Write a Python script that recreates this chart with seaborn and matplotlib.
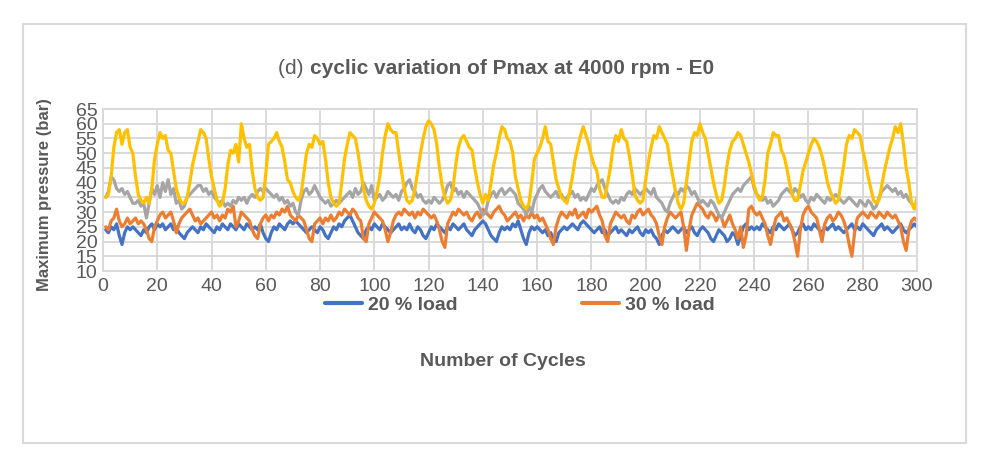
import numpy as np
import pandas as pd
import matplotlib
matplotlib.use("Agg")
import matplotlib.pyplot as plt
import seaborn as sns
from matplotlib.lines import Line2D
from matplotlib.patches import Rectangle

# Maximum pressure (bar) per cycle
load_20 = [
    24, 23, 25, 24, 26, 22, 19, 23, 25, 24,
    25, 24, 23, 22, 24, 23, 25, 26, 24, 26,
    25, 26, 24, 25, 26, 24, 25, 23, 22, 21,
    23, 24, 25, 24, 23, 25, 24, 26, 25, 24,
    23, 25, 24, 26, 25, 24, 26, 25, 24, 26,
    25, 24, 26, 25, 24, 25, 24, 26, 23, 21,
    20, 23, 25, 24, 26, 25, 24, 26, 27, 26,
    27, 26, 25, 24, 23, 24, 25, 24, 23, 25,
    24, 22, 21, 23, 25, 24, 26, 25, 27, 28,
    29, 27, 25, 23, 22, 21, 24, 25, 24, 26,
    25, 24, 26, 25, 24, 23, 24, 25, 26, 24,
    25, 24, 26, 24, 23, 25, 24, 22, 21, 23,
    25, 24, 26, 25, 24, 23, 25, 24, 26, 25,
    24, 25, 26, 24, 23, 22, 24, 25, 26, 27,
    26, 24, 22, 21, 20, 23, 25, 24, 25, 24,
    26, 25, 27, 24, 21, 19, 23, 25, 24, 25,
    24, 23, 24, 22, 23, 21, 20, 23, 24, 25,
    24, 25, 26, 25, 24, 26, 27, 26, 25, 24,
    23, 24, 25, 23, 24, 22, 23, 24, 25, 23,
    24, 23, 22, 24, 23, 24, 25, 23, 22, 24,
    23, 24, 22, 21, 19, 22, 24, 23, 24, 25,
    24, 23, 24, 25, 23, 24, 25, 23, 22, 24,
    25, 24, 23, 21, 20, 22, 24, 23, 22, 20,
    21, 23, 22, 19, 22, 25, 26, 24, 25, 24,
    25, 24, 26, 25, 24, 23, 25, 24, 26, 25,
    24, 25, 26, 24, 22, 23, 25, 26, 24, 25,
    24, 26, 25, 24, 23, 25, 24, 25, 26, 24,
    25, 24, 23, 24, 25, 26, 24, 25, 24, 26,
    25, 24, 23, 22, 24, 25, 26, 24, 25, 24,
    23, 24, 25, 26, 24, 23, 24, 25, 26, 25,
]
load_30 = [
    25, 24, 27, 28, 31, 27, 25, 26, 28, 26,
    27, 28, 26, 27, 26, 24, 21, 20, 25, 27,
    29, 30, 28, 29, 30, 27, 23, 26, 28, 29,
    30, 31, 29, 27, 28, 26, 27, 28, 29, 30,
    28, 29, 27, 29, 28, 31, 30, 32, 25, 27,
    30, 29, 28, 27, 24, 22, 21, 26, 28, 29,
    27, 29, 28, 30, 29, 31, 30, 32, 29, 28,
    27, 29, 28, 27, 24, 21, 20, 26, 27, 28,
    26, 28, 27, 29, 27, 28, 30, 29, 31, 30,
    29, 31, 30, 28, 27, 21, 20, 26, 28, 30,
    29, 28, 27, 24, 20, 23, 27, 29, 30, 29,
    31, 30, 29, 30, 28, 30, 29, 31, 30, 29,
    28, 29, 27, 24, 20, 18, 26, 28, 30, 29,
    31, 30, 29, 30, 28, 27, 29, 30, 28, 31,
    30, 29, 28, 30, 31, 32, 30, 29, 27, 28,
    29, 30, 28, 29, 27, 29, 28, 30, 28, 29,
    27, 28, 26, 24, 21, 19, 25, 28, 30, 29,
    28, 30, 29, 31, 28, 29, 30, 28, 31, 30,
    31, 32, 29, 27, 22, 20, 26, 28, 30, 29,
    28, 29, 27, 26, 29, 28, 30, 31, 29, 30,
    31, 29, 28, 26, 22, 19, 25, 28, 30, 29,
    28, 29, 30, 25, 17, 24, 29, 31, 33, 32,
    31, 29, 28, 30, 29, 27, 29, 28, 25, 27,
    29, 26, 24, 21, 25, 18, 22, 31, 32, 30,
    29, 30, 28, 26, 22, 19, 24, 28, 29, 30,
    27, 28, 26, 24, 20, 15, 24, 29, 31, 32,
    30, 29, 28, 24, 20, 26, 28, 29, 27, 28,
    30, 29, 27, 24, 19, 15, 23, 28, 29, 30,
    29, 28, 30, 29, 28, 30, 29, 28, 30, 29,
    28, 29, 27, 25, 20, 17, 24, 27, 28, 27,
]
load_40 = [
    35, 37, 42, 41, 38, 37, 38, 36, 37, 35,
    33, 33, 34, 32, 33, 28, 33, 38, 36, 39,
    35, 40, 37, 41, 36, 38, 33, 34, 31, 32,
    35, 36, 37, 38, 39, 39, 37, 38, 36, 37,
    35, 34, 33, 34, 32, 33, 32, 34, 33, 35,
    34, 35, 33, 35, 36, 35, 37, 38, 37, 38,
    37, 36, 35, 36, 34, 35, 33, 34, 32, 33,
    30, 29, 34, 37, 38, 36, 37, 39, 37, 35,
    34, 33, 34, 32, 33, 34, 33, 34, 35, 36,
    37, 35, 38, 36, 37, 40, 38, 36, 39, 34,
    35, 36, 34, 35, 37, 36, 35, 36, 34, 37,
    38, 40, 41, 38, 37, 35, 36, 34, 33, 34,
    33, 35, 34, 33, 34, 36, 39, 40, 37, 38,
    36, 37, 35, 37, 36, 35, 34, 33, 31, 29,
    30, 34, 36, 37, 35, 37, 38, 36, 37, 38,
    37, 36, 33, 32, 31, 29, 32, 30, 34, 36,
    38, 39, 37, 36, 35, 36, 37, 35, 36, 34,
    35, 36, 37, 35, 36, 34, 35, 34, 36, 38,
    37, 39, 40, 41, 38, 36, 34, 33, 34, 33,
    35, 34, 36, 37, 36, 38, 37, 36, 37, 38,
    37, 36, 38, 35, 34, 33, 31, 30, 33, 35,
    37, 36, 38, 37, 39, 38, 36, 37, 35, 33,
    34, 33, 32, 34, 33, 31, 29, 28, 30, 32,
    34, 36, 37, 38, 37, 39, 40, 41, 42, 38,
    36, 35, 34, 35, 33, 34, 32, 33, 34, 36,
    37, 38, 37, 36, 38, 37, 35, 36, 34, 33,
    35, 34, 36, 35, 34, 33, 35, 34, 35, 36,
    35, 34, 33, 34, 35, 34, 33, 32, 34, 33,
    32, 34, 33, 31, 32, 35, 37, 38, 39, 38,
    37, 38, 36, 37, 35, 36, 34, 33, 32, 31,
]
load_50 = [
    35, 36, 42, 52, 57, 58, 53, 57, 58, 52, 50, 42, 36, 34, 33, 35, 33,
    38, 48, 53, 57, 55, 56, 51, 50, 44, 38, 35, 33, 33, 35,
    40, 46, 50, 54, 58, 57, 55, 48, 42, 38, 34, 32, 33,
    38, 46, 51, 50, 53, 47, 60, 55, 52, 53, 44, 38, 35, 34, 35,
    43, 53, 54, 55, 57, 54, 52, 47, 41, 40, 37, 35, 34, 36,
    43, 50, 53, 52, 56, 55, 53, 54, 48, 40, 35, 33, 32, 33,
    40, 48, 53, 57, 56, 55, 50, 44, 38, 34, 32, 31, 33,
    37, 42, 50, 56, 60, 58, 57, 57, 50, 44, 38, 34, 33, 34,
    38, 44, 50, 55, 59, 61, 60, 58, 53, 45, 39, 35, 33, 34,
    38, 46, 52, 55, 56, 54, 52, 51, 45, 40, 36, 33, 36, 34,
    40, 46, 50, 55, 59, 58, 55, 54, 50, 42, 38, 34, 32, 31, 33,
    40, 48, 50, 52, 55, 59, 54, 53, 47, 41, 38, 35, 34, 33,
    37, 42, 48, 52, 56, 59, 56, 53, 49, 46, 44, 38, 35, 35,
    40, 45, 52, 56, 54, 58, 55, 54, 49, 43, 36, 34, 33, 34,
    41, 47, 52, 56, 55, 59, 57, 55, 53, 47, 42, 37, 33, 31, 33,
    40, 47, 54, 57, 56, 60, 57, 55, 50, 45, 40, 36, 33, 34,
    39, 46, 51, 54, 55, 57, 56, 53, 50, 47, 43, 39, 36, 34, 35,
    41, 50, 53, 57, 56, 56, 51, 49, 45, 40, 36, 34, 34,
    39, 44, 47, 50, 53, 55, 54, 52, 49, 45, 40, 37, 35, 33, 34,
    40, 46, 53, 56, 55, 58, 57, 56, 51, 47, 42, 38, 34, 33, 34,
    39, 44, 48, 52, 55, 59, 57, 60, 53, 45, 40, 33, 31, 35,
]

series_names = ["20 % load", "30 % load", "40 % load", "50 % load"]
series_colors = ["#4472C4", "#ED7D31", "#A5A5A5", "#FFC000"]
x_ticks = list(range(0, 301, 20))
y_ticks = list(range(10, 66, 5))

frames = []
for name, vals in zip(series_names, [load_20, load_30, load_40, load_50]):
    frames.append(pd.DataFrame({"cycle": np.arange(1, len(vals) + 1),
                                "pressure": vals, "series": name}))
df = pd.concat(frames, ignore_index=True)

sns.set_theme(style="white")
plt.rcParams["font.family"] = ["Liberation Sans", "DejaVu Sans"]
grey_text = "#595959"
grid_col = "#D9D9D9"

fig = plt.figure(figsize=(9.88, 4.67), dpi=100)
fig.patches.append(Rectangle((23 / 988, 24 / 467), 943 / 988, 419 / 467,
                             transform=fig.transFigure, fill=False,
                             edgecolor=grid_col, lw=1.5))
ax = fig.add_axes([103 / 988, 196 / 467, 814 / 988, 162 / 467])

sns.lineplot(data=df, x="cycle", y="pressure", hue="series",
             palette=dict(zip(series_names, series_colors)),
             linewidth=2.3, ax=ax, legend=False)

ax.set_xlim(0, 300)
ax.set_ylim(10, 65)
ax.set_xticks(x_ticks)
ax.set_yticks(y_ticks)
ax.grid(True, color=grid_col, lw=1.4)
ax.set_axisbelow(True)
for sp in ax.spines.values():
    sp.set_color(grid_col)
    sp.set_linewidth(1.4)
ax.tick_params(axis="both", length=0, labelsize=14, labelcolor=grey_text)
ax.tick_params(axis="x", pad=5)
ax.tick_params(axis="y", pad=4)
ax.set_xlabel("")
ax.set_ylabel("")

handles = [Line2D([0], [0], color=c, lw=3) for c in series_colors[:2]]
leg = fig.legend(handles, series_names[:2], loc="center",
                 bbox_to_anchor=(520 / 988, 1 - 305 / 467), ncol=2,
                 frameon=False, handlelength=1.9, handletextpad=0.3,
                 columnspacing=6.4, prop={"weight": "bold", "size": 14})
for t in leg.get_texts():
    t.set_color(grey_text)

fig.text(503 / 988, 1 - 362 / 467, "Number of Cycles", ha="center", va="center",
         fontsize=14, fontweight="bold", color=grey_text)
fig.text(45 / 988, 1 - 195 / 467, "Maximum pressure (bar)", ha="center", va="center",
         rotation=90, fontsize=12, fontweight="bold", color=grey_text)

# title: "(d)" regular + rest bold, centred together
t1 = fig.text(0, 1 - 68 / 467, "(d) ", ha="left", va="center", fontsize=15, color=grey_text)
t2 = fig.text(0, 1 - 68 / 467, "cyclic variation of Pmax at 4000 rpm - E0", ha="left",
              va="center", fontsize=15, fontweight="bold", color=grey_text)
fig.canvas.draw()
r = fig.canvas.get_renderer()
w1 = t1.get_window_extent(r).width
w2 = t2.get_window_extent(r).width
x0 = 496 - (w1 + w2) / 2
t1.set_x(x0 / 988)
t2.set_x((x0 + w1) / 988)

fig.savefig("out.png", dpi=100)
